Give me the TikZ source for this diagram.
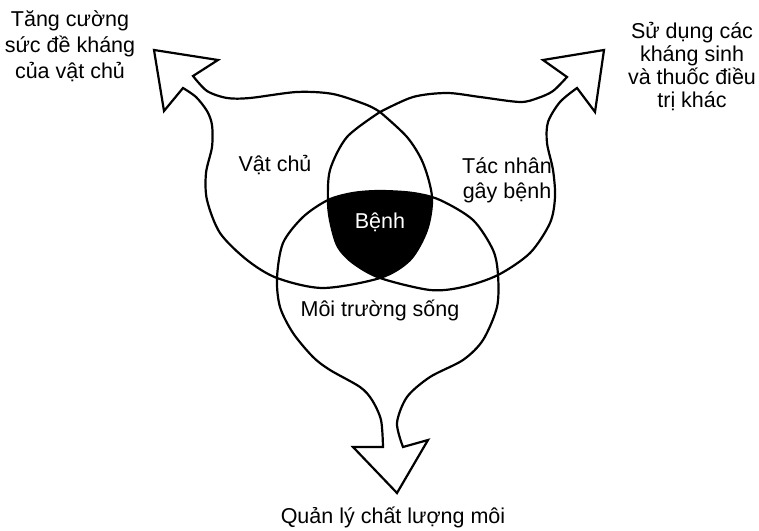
\documentclass[tikz,border=0pt]{standalone}
\usepackage{fontspec}
\setmainfont{Liberation Sans}

% outlines of the three regions, each with its own arrow
\newcommand{\hostpath}{(193,454) -- plot[smooth] coordinates {(193,454) (207,439) (227,432) (250,432) (297,438) (333,436) (367,425) (380,418)}
    -- plot[smooth] coordinates {(380,418) (407,393) (423,367) (432,333) (427,300) (410,270) (380,252) (323,242) (277,252) (247,270) (220,297) (207,330) (206,357) (212,383) (212,405) (207,419) (196,433) (183,442)}
    -- (164,419) -- (154,480) -- (218,470) -- cycle}
\newcommand{\agentpath}{(567,453) -- plot[smooth] coordinates {(567,453) (553,439) (538,432) (520,428) (480,433) (447,437) (413,433) (380,418)}
    -- plot[smooth] coordinates {(380,418) (347,393) (330,360) (328,327) (331,305) (338,283) (353,267) (380,252) (430,240) (463,243) (498,255) (530,277) (550,307) (555,333) (553,360) (547,387) (548,408) (560,428) (577,442)}
    -- (595,418) -- (604,480) -- (543,470) -- cycle}
\newcommand{\envpath}{(383,83) -- plot[smooth] coordinates {(383,83) (381,110) (372,130) (360,143) (330,160) (313,173) (293,197) (280,223) (277,252) (283,287) (303,313) (328,330) (353,337) (380,339) (413,337) (440,330) (473,310) (493,280) (498,255) (497,223) (483,190) (463,170) (430,153) (407,133) (397,107) (403,83)}
    -- (428,90) -- (397,37) -- (353,83) -- cycle}

\begin{document}
\begin{tikzpicture}[x=1pt, y=1pt,
    blob/.style={draw, line width=2.2pt},
    lbl/.style={font=\fontsize{21.5}{26}\selectfont, align=center, inner sep=0pt}
]
\path[use as bounding box, fill=white] (0,0) rectangle (759,530);
\begin{scope}
    \clip \hostpath;
    \clip \agentpath;
    \fill[black] \envpath;
\end{scope}
\draw[blob] \hostpath;
\draw[blob] \agentpath;
\draw[blob] \envpath;
\node[lbl] (host) at (275,365) {Vật chủ};
\node[lbl, font=\fontsize{21.5}{25}\selectfont] (agent) at (507,350) {Tác nhân\\gây bệnh};
\node[lbl] (env) at (380,220) {Môi trường sống};
\node[lbl, text=white] (disease) at (380,308) {Bệnh};
\node[lbl] (hostaim) at (70,484) {Tăng cường\\sức đề kháng\\của vật chủ};
\node[lbl, font=\fontsize{21.5}{23}\selectfont] (agentaim) at (692,463) {Sử dụng các\\kháng sinh\\và thuốc điều\\trị khác};
\node[lbl, anchor=base] (envaim) at (393,6.5) {Quản lý chất lượng môi};
\end{tikzpicture}
\end{document}
